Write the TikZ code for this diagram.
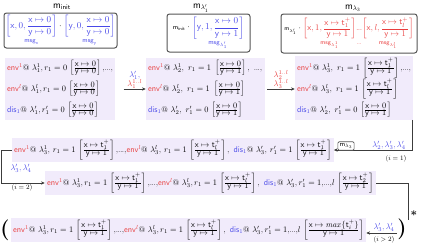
\documentclass[tikz,border=0pt]{standalone}
\usepackage{amsmath}
\usetikzlibrary{fit,backgrounds,arrows.meta}
\definecolor{envred}{RGB}{232,62,62}
\definecolor{disblue}{RGB}{72,72,232}
\definecolor{lav}{RGB}{241,235,251}
\definecolor{boxgray}{RGB}{85,85,85}
\definecolor{linegray}{RGB}{60,60,60}
\newcommand{\Fd}[2]{\dfrac{\mathsf{x}\mapsto #1}{\mathsf{y}\mapsto #2}}
\newcommand{\Fc}[2]{\frac{\textstyle\mathsf{x}\mapsto #1}{\textstyle\mathsf{y}\mapsto #2}}
\newcommand{\Fr}[2]{\left[\Fc{#1}{#2}\right]}
\newcommand{\Dts}{{.}\mkern-1mu{.}\mkern-1mu{.}}
\newcommand{\Cd}{{,}\Dts{,}}
\newcommand{\EnvO}{\textcolor{envred}{\mathsf{env}^1}}
\newcommand{\EnvL}{\textcolor{envred}{\mathsf{env}^l}}
\newcommand{\DisO}{\textcolor{disblue}{\mathsf{dis}_1}}
\newcommand{\Tp}[1]{\mathsf{t}_{#1}^{+}}
\begin{document}
\begin{tikzpicture}[x=1.2pt,y=-1.2pt,>={Stealth[length=4.5pt,width=4pt]},
  rowtext/.style={anchor=west,inner sep=0pt},
  bgfit/.style={fill=lav,inner sep=2.5pt},
  mbox/.style={draw=boxgray,line width=1.2pt,rounded corners=3pt,inner sep=0pt},
  smallbox/.style={draw=boxgray,line width=0.8pt,rounded corners=1.5pt,fill=white,inner sep=2pt,font=\footnotesize},
  conn/.style={draw=linegray,line width=0.7pt},
  lbl/.style={inner sep=0.5pt,align=center},
  toplbl/.style={font=\large,inner sep=0pt}]
\useasboundingbox (0,0) rectangle (423,246);

% ---- top boxes ----
\node[toplbl] (l1) at (62,7) {$\mathsf{m}_{\mathsf{init}}$};
\node[mbox,fit={(4,13) (117,48)}] (b1) {};
\node[inner sep=0pt] (t1) at (b1.center)
 {\scalebox{1.09}{$\textcolor{disblue}{\underset{\mathsf{msg}_{\mathsf{x}}}{\left[\mathsf{x},0,\Fd{0}{0}\right]}}\cdot
   \textcolor{disblue}{\underset{\mathsf{msg}_{\mathsf{y}}}{\left[\mathsf{y},0,\Fd{0}{0}\right]}}$}};

\node[toplbl] (l2) at (201,8) {$\mathsf{m}_{\lambda'_1}$};
\node[mbox,fit={(167,14) (250,52)}] (b2) {};
\node[inner sep=0pt] (t2) at (b2.center)
 {\scalebox{1.1}{$\scriptstyle\mathsf{m}_{\mathsf{init}}\textstyle\cdot
   \textcolor{disblue}{\underset{\mathsf{msg}_{\lambda'_1}}{\left[\mathsf{y},1,\Fd{0}{1}\right]}}$}};

\node[toplbl] (l3) at (353,8) {$\mathsf{m}_{\lambda_3}$};
\node[mbox,fit={(281,14) (417,53)}] (b3) {};
\node[inner sep=0pt] (t3) at (b3.center)
 {\scalebox{1.03}{$\scriptstyle\mathsf{m}_{\lambda'_1}\textstyle\cdot
   \textcolor{envred}{\underset{\mathsf{msg}_{\lambda_1^1}}{\left[\mathsf{x},1,\Fd{\Tp1}{1}\right]}
   \underset{\Dts}{\vphantom{\left[\Fd{0}{0}\right]}\Dts}
   \underset{\mathsf{msg}_{\lambda_1^l}}{\left[\mathsf{x},l,\Fd{\Tp l}{1}\right]}}$}};

% ---- row 1 blocks ----
\node[rowtext] (a1) at (7,68) {$\EnvO@\ \lambda_1^1,r_1=0\,\Fr{0}{0}\Cd$};
\node[rowtext] (a2) at (7,89) {$\EnvL@\ \lambda_1^l,r_1=0\,\Fr{0}{0}$};
\node[rowtext] (a3) at (7,110) {$\DisO@\ \lambda'_1,r'_1=0\,\Fr{0}{0}$};

\node[rowtext] (c1) at (148,68) {$\EnvO@\ \lambda_2^1,\ r_1=1\ \Fr{0}{1},\ \Dts{,}$};
\node[rowtext] (c2) at (148,89) {$\EnvL@\ \lambda_2^l,\ r_1=1\ \Fr{0}{1}$};
\node[rowtext] (c3) at (148,110) {$\DisO@\ \lambda'_2,\ r'_1=0\,\Fr{0}{1}$};

\node[rowtext] (e1) at (297,68) {$\EnvO@\ \lambda_3^1,\ r_1=1\,\Fr{\Tp1}{1}\Cd$};
\node[rowtext] (e2) at (297,89) {$\EnvL@\ \lambda_3^l,\ r_1=1\,\Fr{\Tp l}{1}$};
\node[rowtext] (e3) at (297,110) {$\DisO@\ \lambda'_2,\ r'_1=0\,\Fr{0}{1}$};

% ---- lower rows ----
\node[rowtext] (d1) at (14,150) {$\EnvO@\ \lambda_3^1,\,r_1=1\,\Fr{\Tp1}{1}\Cd\EnvL@\ \lambda_3^l,\,r_1=1\,\Fr{\Tp l}{1},\ \DisO@\ \lambda'_3,\,r'_1=1\,\Fr{\Tp1}{1}$};
\node[rowtext] (f1) at (47,183) {$\EnvO@\ \lambda_3^1,r_1=1\,\Fr{\Tp1}{1}\Cd\EnvL@\ \lambda_3^l,r_1=1\,\Fr{\Tp l}{1},\ \DisO@\ \lambda'_3,r'_1=1\Cd l\,\Fr{\Tp2}{1}$};
\node[rowtext] (g1) at (13,230) {$\EnvO@\ \lambda_3^1,r_1=1\,\Fr{\Tp1}{1}\Cd\EnvL@\ \lambda_3^l,r_1=1\,\Fr{\Tp l}{1},\ \DisO@\ \lambda'_3,r'_1=1\Cd l\,\Fr{\mathit{max}\{\Tp i\}}{1}$};

\begin{scope}[on background layer]
\node[bgfit,fit=(a1)(a2)(a3)] (A) {};
\node[bgfit,fit=(c1)(c2)(c3)] (B) {};
\node[bgfit,fit=(e1)(e2)(e3)] (C) {};
\node[bgfit,fit=(d1)] (D) {};
\node[bgfit,fit=(f1)] (E) {};
\node[bgfit,fit=(g1)] (F) {};
\end{scope}

% ---- connectors ----
\draw[conn,->] ([xshift=10pt]A.east |- a2) -- node[lbl,above] {$\textcolor{disblue}{\lambda'_1,}$\\[-2pt]$\textcolor{envred}{\lambda_1^{1..l}}$} (B.west |- a2);
\draw[conn,->] ([xshift=3pt]B.east |- a2) -- node[lbl,above] {$\textcolor{envred}{\lambda_2^{1..l}}$\\[-1pt]$\textcolor{envred}{\lambda_3^{1..l}}$} (C.west |- a2);

\coordinate (k1) at (412,0);
\draw[conn,->] (C.south -| k1) |- (D.east);
\node[smallbox] (ml3) at (346,146) {$\mathsf{m}_{\lambda_3}$};
\node[lbl] (lab1) at (389,145) {$\textcolor{disblue}{\lambda'_2,\lambda'_3,\lambda'_4}$};
\node[lbl,font=\footnotesize] (lab2) at (396,159) {$(i=1)$};

\draw[conn,->] (D.west) -- ++(-10,0) |- (E.west);
\node[lbl] (lab3) at (21,168) {$\textcolor{disblue}{\lambda'_3,\lambda'_4}$};
\node[lbl,font=\footnotesize] (lab4) at (22,188) {$(i=2)$};

\coordinate (r3c) at (408,220);
\draw[conn] (E.east) -| (r3c);

\node[inner sep=0pt] (lp) at (5,230) {\fontsize{25}{25}\selectfont\bfseries (};
\node[inner sep=0pt] (rp) at (402,229) {\fontsize{25}{25}\selectfont\bfseries )};
\node[inner sep=0pt] (star) at (414,215) {\fontsize{14}{14}\selectfont\bfseries *};
\coordinate (r4a) at (397,233);
\draw[conn,->] (r4a) -- (F.east |- r4a);
\node[lbl] (lab5) at (384,227) {$\textcolor{disblue}{\lambda'_3,\lambda'_4}$};
\node[lbl,font=\footnotesize] (lab6) at (384,240) {$(i>2)$};
\end{tikzpicture}
\end{document}
